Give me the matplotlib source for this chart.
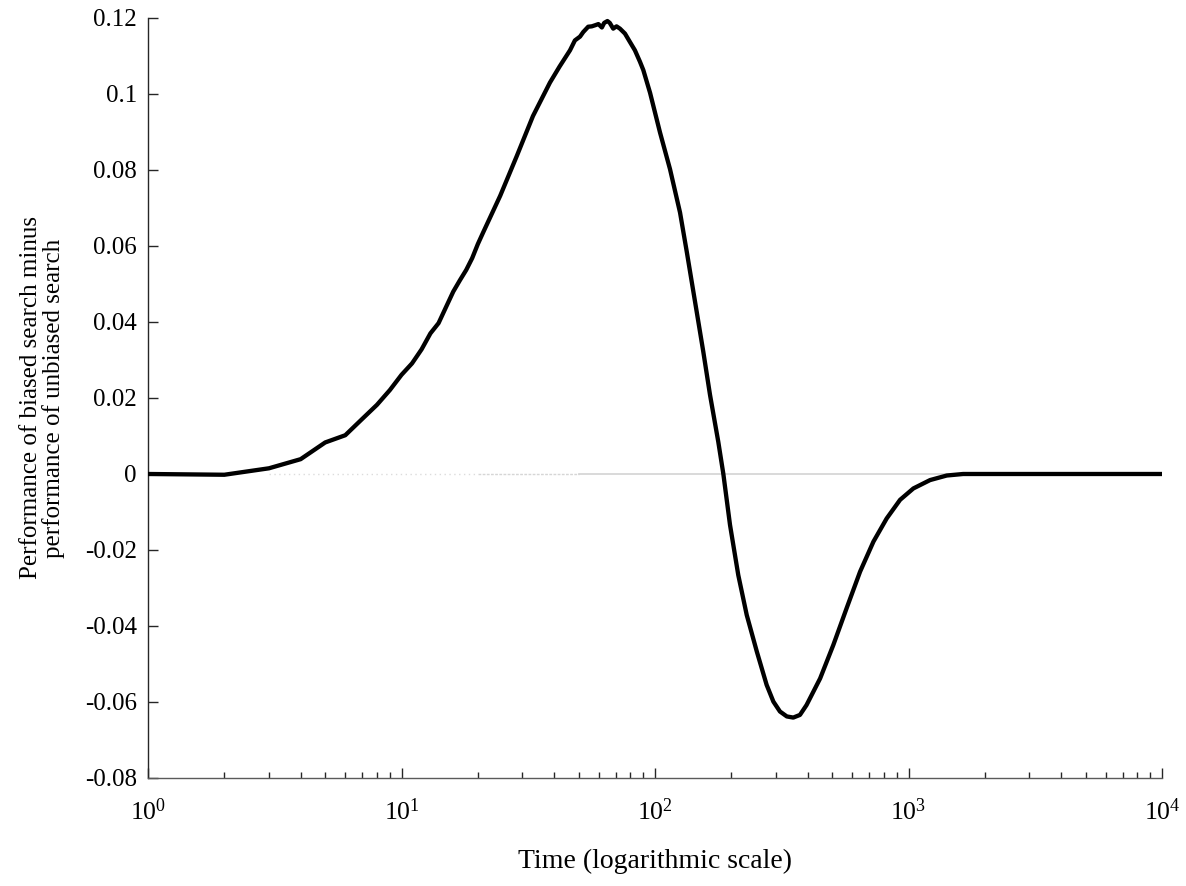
import matplotlib
matplotlib.use("Agg")
import matplotlib.pyplot as plt
from matplotlib.ticker import LogLocator, NullFormatter, FixedLocator

plt.rcParams['font.family'] = ['Liberation Serif', 'DejaVu Serif']
plt.rcParams['mathtext.fontset'] = 'custom'
plt.rcParams['mathtext.rm'] = 'Liberation Serif'
plt.rcParams['mathtext.it'] = 'Liberation Serif:italic'

# Time steps and performance difference (biased - unbiased)
time = [1, 2, 3, 4, 5, 6, 7, 8, 9, 10, 11, 12, 13, 14, 15, 16, 17, 18, 19, 20,
        21, 24.5, 28.5, 33, 38.5, 42, 46.2, 48.3, 50.6, 52.1, 54.5, 56.3, 58.1,
        59.8, 61.7, 63, 64.9, 66.3, 68.4, 70.5, 72.7, 76.1, 79.6, 83.3, 87.2,
        89.9, 95.6, 104.6, 114.6, 125.5, 133.4, 146, 155, 164.8, 177.6, 186,
        197.6, 213, 230, 252, 275.6, 293, 311, 331, 351, 373, 396, 448, 505,
        570, 644, 727, 820, 926, 1045, 1216, 1415, 1642, 2500, 5000, 10000]
diff = [0.0, -0.0002, 0.0015, 0.0039, 0.0083, 0.0102, 0.0145, 0.0182, 0.0221,
        0.0261, 0.0291, 0.0328, 0.0370, 0.0397, 0.0440, 0.0480, 0.0510, 0.0537,
        0.0568, 0.0605, 0.0636, 0.0732, 0.0837, 0.0942, 0.1030, 0.1072, 0.1115,
        0.1141, 0.1151, 0.1163, 0.1177, 0.1178, 0.1181, 0.1184, 0.1175, 0.1187,
        0.1192, 0.1187, 0.1172, 0.1178, 0.1172, 0.1159, 0.1137, 0.1115, 0.1085,
        0.1063, 0.1003, 0.0899, 0.0802, 0.0688, 0.0585, 0.0427, 0.0322, 0.0208,
        0.0085, 0.0, -0.0134, -0.0266, -0.0371, -0.0467, -0.0555, -0.0599,
        -0.0625, -0.0638, -0.0641, -0.0634, -0.0608, -0.0538, -0.0450, -0.0353,
        -0.0257, -0.0178, -0.0117, -0.0068, -0.0038, -0.0016, -0.0004, 0.0,
        0.0, 0.0, 0.0]

y_ticks = [-0.08, -0.06, -0.04, -0.02, 0, 0.02, 0.04, 0.06, 0.08, 0.1, 0.12]
y_ticklabels = ['-0.08', '-0.06', '-0.04', '-0.02', '0', '0.02', '0.04',
                '0.06', '0.08', '0.1', '0.12']
x_ticks = [1, 10, 100, 1000, 10000]
x_ticklabels = [r'$10^{0}$', r'$10^{1}$', r'$10^{2}$', r'$10^{3}$', r'$10^{4}$']

fig = plt.figure(figsize=(11.86, 8.86), dpi=100)
ax = fig.add_axes([0.1248, 0.1219, 0.855, 0.8578])

# zero reference line (light gray, dotted at the low end, solid beyond)
ax.plot([3, 20], [0, 0], color='#dcdcdc', lw=1.0, ls=(0, (1, 2.5)), zorder=1)
ax.plot([20, 50], [0, 0], color='#d6d6d6', lw=1.0, ls=(0, (2, 1)), zorder=1)
ax.plot([50, 10000], [0, 0], color='#d3d3d3', lw=1.2, zorder=1)

ax.plot(time, diff, color='black', lw=3.1, solid_capstyle='round',
        solid_joinstyle='round', zorder=3)

ax.set_xscale('log')
ax.set_xlim(1, 10000)
ax.set_ylim(-0.08, 0.12)

ax.xaxis.set_major_locator(FixedLocator(x_ticks))
ax.set_xticklabels(x_ticklabels)
ax.xaxis.set_minor_locator(LogLocator(base=10, subs=range(2, 10), numticks=20))
ax.xaxis.set_minor_formatter(NullFormatter())
ax.set_yticks(y_ticks)
ax.set_yticklabels(y_ticklabels)

for s in ['top', 'right']:
    ax.spines[s].set_visible(False)
ax.spines['left'].set_color('#262626')
ax.spines['bottom'].set_color('#5a5a5a')
ax.spines['left'].set_linewidth(1.0)
ax.spines['bottom'].set_linewidth(1.0)

ax.tick_params(axis='both', which='major', direction='in', length=7.5,
               width=1.0, color='#262626')
ax.tick_params(axis='x', which='minor', direction='in', length=4.5,
               width=1.0, color='#262626')
ax.tick_params(axis='y', which='major', pad=8, labelsize=18)
ax.tick_params(axis='x', which='major', pad=15, labelsize=18.5)

ax.set_xlabel('Time (logarithmic scale)', fontsize=20, labelpad=17)
ax.set_ylabel('Performance of biased search minus\nperformance of unbiased search',
              fontsize=18, labelpad=14, linespacing=1.0)

fig.savefig('out.png', dpi=100)
